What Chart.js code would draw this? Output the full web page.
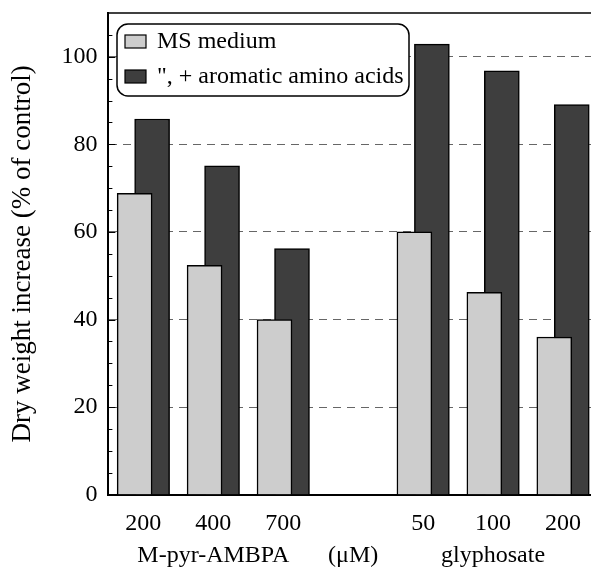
<!DOCTYPE html>
<html>
<head>
<meta charset="utf-8">
<script src="https://cdn.jsdelivr.net/npm/chart.js@4/dist/chart.umd.min.js"></script>
<style>
  html, body { margin: 0; padding: 0; background: #fff; overflow: hidden; }
  #wrap { width: 600px; height: 577px; }
</style>
</head>
<body>
<div id="wrap"><canvas id="myChart"></canvas></div>
<script>
// doses along the x axis, the empty slot separates the two compounds
var doses = ['200', '400', '700', '', '50', '100', '200']
// second label line under the doses
var groupNames = ['', 'M-pyr-AMBPA', '', '(\u03bcM)', '', 'glyphosate', '']
var msMedium = [68.8, 52.4, 40.0, null, 60.0, 46.2, 36.0]
var aromatic = [85.8, 75.1, 56.2, null, 102.9, 96.8, 89.1]
var yTicks = [0, 20, 40, 60, 80, 100]
var seriesNames = ['MS medium', '", + aromatic amino acids']

var labels = []
for (var i = 0; i < doses.length; i++) {
  labels.push(groupNames[i] ? [doses[i], groupNames[i]] : doses[i])
}

var serif = "'Liberation Serif', 'Times New Roman', serif"

// frame on top, inward ticks and the rounded legend box
var framePlugin = {
  id: 'frame',
  afterDraw: function(chart) {
    var ctx = chart.ctx
    var area = chart.chartArea
    var y = chart.scales.y
    ctx.save()
    ctx.strokeStyle = '#000'
    ctx.lineWidth = 1.5
    ctx.beginPath()
    ctx.moveTo(area.left, area.top)
    ctx.lineTo(area.right, area.top)
    ctx.stroke()
    ctx.lineWidth = 1
    for (var v = 5; v < 110; v += 5) {
      var py = Math.round(y.getPixelForValue(v)) + 0.5
      var len = (v % 20 === 0) ? 7 : 4
      ctx.beginPath()
      ctx.moveTo(area.left, py)
      ctx.lineTo(area.left + len, py)
      ctx.stroke()
    }
    // legend
    var bx = 117, by = 24, bw = 292, bh = 72, r = 11
    ctx.fillStyle = '#fff'
    ctx.strokeStyle = '#000'
    ctx.lineWidth = 1.5
    ctx.beginPath()
    ctx.roundRect(bx, by, bw, bh, r)
    ctx.fill()
    ctx.stroke()
    ctx.font = '24px ' + serif
    ctx.textBaseline = 'middle'
    ctx.textAlign = 'left'
    var ds = chart.data.datasets
    for (var k = 0; k < ds.length; k++) {
      var sy = 35 + k * 35
      ctx.fillStyle = ds[k].backgroundColor
      ctx.fillRect(125, sy, 21, 13)
      ctx.lineWidth = 1.2
      ctx.strokeRect(125, sy, 21, 13)
      ctx.fillStyle = '#000'
      ctx.fillText(ds[k].label, 157, sy + 7)
    }
    ctx.restore()
  }
}

var ctx = document.getElementById('myChart').getContext('2d')
var myChart = new Chart(ctx, {
  type: 'bar',
  data: {
    labels: labels,
    datasets: [{
      label: seriesNames[0],
      data: msMedium,
      backgroundColor: '#cdcdcd',
      borderColor: '#000',
      borderWidth: 1.5,
      borderSkipped: 'bottom'
    }, {
      label: seriesNames[1],
      data: aromatic,
      backgroundColor: '#3e3e3e',
      borderColor: '#000',
      borderWidth: 1.5,
      borderSkipped: 'bottom'
    }]
  },
  options: {
    responsive: true,
    maintainAspectRatio: false,
    animation: false,
    categoryPercentage: 0.5,
    barPercentage: 2.0,
    layout: { padding: { left: 0, right: 2, top: 13, bottom: 0 } },
    plugins: {
      legend: { display: false },
      tooltip: { enabled: false }
    },
    scales: {
      x: {
        grid: { display: false },
        border: { color: '#000', width: 2 },
        ticks: {
          color: '#000',
          font: { family: serif, size: 24, lineHeight: 1.34 },
          maxRotation: 0,
          autoSkip: false,
          padding: 5
        }
      },
      y: {
        min: 0,
        max: 110,
        afterBuildTicks: function(scale) {
          scale.ticks = yTicks.map(function(v) { return { value: v } })
        },
        afterFit: function(scale) {
          // top tick is 110 without a label, no room needed above
          scale.paddingTop = 0
        },
        grid: {
          color: function(c) { return c.tick && c.tick.value === 0 ? 'rgba(0,0,0,0)' : '#666' },
          lineWidth: 1,
          drawTicks: false
        },
        border: { color: '#000', width: 2, dash: [8, 6] },
        ticks: {
          color: '#000',
          font: { family: serif, size: 24 },
          padding: 11
        },
        title: {
          display: true,
          text: 'Dry weight increase (% of control)',
          color: '#000',
          font: { family: serif, size: 27 },
          padding: { top: 7, bottom: 11 }
        }
      }
    }
  },
  plugins: [framePlugin]
})
</script>
</body>
</html>
